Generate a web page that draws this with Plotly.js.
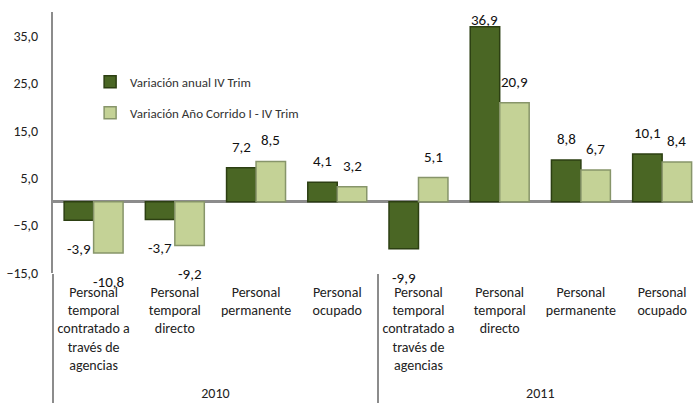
<!DOCTYPE html>
<html>
<head>
<meta charset="utf-8">
<script src="https://cdn.plot.ly/plotly-3.0.1.min.js"></script>
<style>html,body{margin:0;padding:0;background:#fff;}#chart{width:693px;height:406px;}</style>
</head>
<body>
<div id="chart"></div>
<script>
const years = ['2010', '2011'];
const categories = [
  'Personal<br>temporal<br>contratado a<br>través de<br>agencias<br> ',
  'Personal<br>temporal<br>directo',
  'Personal<br>permanente',
  'Personal<br>ocupado'
];
const seriesNames = ['Variación anual IV Trim', 'Variación Año Corrido I - IV Trim'];
const anual = [-3.9, -3.7, 7.2, 4.1, -9.9, 36.9, 8.8, 10.1];
const corrido = [-10.8, -9.2, 8.5, 3.2, 5.1, 20.9, 6.7, 8.4];
const yTicks = [-15, -5, 5, 15, 25, 35];

const FONT = 'Carlito, Lato, sans-serif';
const yRange = [-15, 40];
const bargap = 0.274;

const xYear = [], xCat = [];
years.forEach(y => categories.forEach(c => { xYear.push(y); xCat.push(c); }));

const colors = [
  {fill: '#4a6624', line: '#2c3f12'},
  {fill: '#c4d296', line: '#87956a'}
];

const traces = [anual, corrido].map((vals, k) => ({
  type: 'bar',
  name: seriesNames[k],
  legendgroup: 'g' + k,
  x: [xYear, xCat],
  y: vals,
  marker: {color: colors[k].fill, line: {color: colors[k].line, width: 1.5}},
  hoverinfo: 'skip'
}));

const fmt = v => v.toFixed(1).replace('.', ',');
const half = (1 - bargap) / 4;
const pxPerUnit = 261 / (yRange[1] - yRange[0]);
const annotations = [];
[anual, corrido].forEach((vals, k) => {
  vals.forEach((v, i) => {
    let shift;
    if (v >= 0) {
      const room = (yRange[1] - v) * pxPerUnit - 8;
      shift = Math.min(21, room);
    } else {
      shift = -29;
    }
    annotations.push({
      xref: 'x', yref: 'y',
      x: i + (k === 0 ? -half : half),
      y: v,
      yshift: shift,
      text: fmt(v),
      showarrow: false,
      font: {family: FONT, size: 15, color: '#111'}
    });
  });
});

const layout = {
  width: 693, height: 406,
  margin: {l: 53, r: 0, t: 12, b: 133},
  paper_bgcolor: '#fff', plot_bgcolor: '#fff',
  separators: ',.',
  barmode: 'group',
  bargap: bargap,
  bargroupgap: 0,
  font: {family: FONT, size: 14, color: '#222'},
  showlegend: true,
  legend: {
    x: 0.058, y: 0.79, xanchor: 'left', yanchor: 'top',
    bgcolor: 'rgba(0,0,0,0)',
    font: {family: FONT, size: 13, color: '#333'},
    traceorder: 'grouped', tracegroupgap: 11
  },
  xaxis: {
    type: 'multicategory',
    range: [-0.5, 7.38],
    showline: false,
    ticks: '',
    ticklabelstandoff: 9,
    showgrid: false,
    zeroline: false,
    showdividers: true,
    dividercolor: '#8c8c8c',
    dividerwidth: 2,
    tickfont: {family: FONT, size: 14, color: '#222'}
  },
  yaxis: {
    range: yRange,
    tickvals: yTicks,
    tickformat: '.1f',
    showgrid: false,
    showline: true,
    linecolor: '#8c8c8c',
    linewidth: 2,
    zeroline: true,
    zerolinecolor: '#8c8c8c',
    zerolinewidth: 3,
    ticks: '',
    ticklabelstandoff: 10,
    tickfont: {family: FONT, size: 14, color: '#222'}
  },
  annotations: annotations
};

Plotly.newPlot('chart', traces, layout, {displayModeBar: false, staticPlot: true});
</script>
</body>
</html>
